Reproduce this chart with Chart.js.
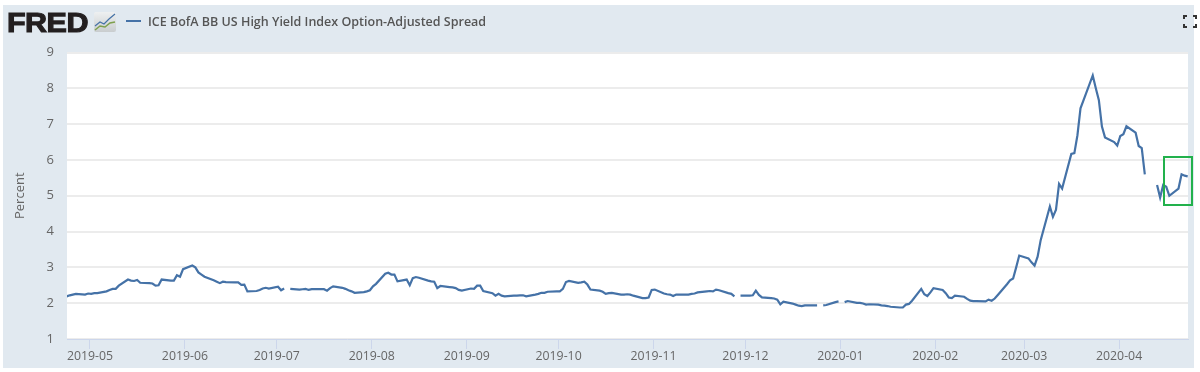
<!DOCTYPE html>
<html>
<head>
<meta charset="utf-8">
<title>ICE BofA BB US High Yield Index Option-Adjusted Spread</title>
<script src="https://cdn.jsdelivr.net/npm/chart.js@4"></script>
<style>
  html, body { margin: 0; padding: 0; background: #fff; }
  #wrap { position: relative; width: 1200px; height: 372px; overflow: hidden; }
  canvas { position: absolute; left: 0; top: 0; }
  #logo { position: absolute; left: 7px; top: 5px; font: bold 28px "Liberation Sans", sans-serif; color: #231f20; letter-spacing: -0.5px; -webkit-text-stroke: 1.1px #231f20; line-height: 36px; transform: scaleX(1.09); transform-origin: left center; }
  #logoIcon { position: absolute; left: 94px; top: 12px; }
  #legend { position: absolute; left: 126px; top: 12px; height: 18px; display: flex; align-items: center; font: 600 12.5px "Open Sans", sans-serif; color: #555; white-space: nowrap; }
  #legend i { display: block; width: 15px; height: 2px; background: #4572a7; margin-right: 7px; }
  #expand { position: absolute; left: 1183px; top: 15px; }
  #greenBox { position: absolute; left: 1163px; top: 156px; width: 26px; height: 46px; border: 2px solid #22b14c; }
</style>
</head>
<body>
<div id="wrap">
  <canvas id="fredChart" width="1200" height="372"></canvas>
  <div id="logo">FRED</div>
  <svg id="logoIcon" width="22" height="20" viewBox="0 0 22 20">
    <defs><linearGradient id="iconBg" x1="0" y1="0" x2="0" y2="1">
      <stop offset="0" stop-color="#eef0f1"/><stop offset="1" stop-color="#c9cdcf"/>
    </linearGradient></defs>
    <rect width="22" height="20" rx="2" fill="url(#iconBg)"/>
    <polyline points="1,14 6,10 10,12 15,7 21,2" fill="none" stroke="#4572a7" stroke-width="1.2"/>
    <polyline points="1,18 6,14 11,15 16,11 21,10" fill="none" stroke="#7ea04d" stroke-width="1.5"/>
  </svg>
  <div id="legend"><i></i><span id="legendText"></span></div>
  <svg id="expand" width="14" height="13" viewBox="0 0 14 13">
    <path d="M1 4V1H4M10 1H13V4M13 9V12H10M4 12H1V9" fill="none" stroke="#333" stroke-width="2"/>
  </svg>
  <div id="greenBox"></div>
</div>
<script>
const seriesName = "ICE BofA BB US High Yield Index Option-Adjusted Spread";
const yTitle = "Percent";
const yTicks = [1, 2, 3, 4, 5, 6, 7, 8, 9];
const xTickLabels = ["2019-05", "2019-06", "2019-07", "2019-08", "2019-09", "2019-10",
  "2019-11", "2019-12", "2020-01", "2020-02", "2020-03", "2020-04"];

// one row per week, Mon-Fri, first Monday is 2019-04-22. null = no print that day
const firstMonday = "2019-04-22";
const spread = [
  null, 2.19, 2.22, 2.24, 2.26,
  2.24, 2.27, 2.26, 2.28, 2.28,
  2.33, 2.37, 2.40, 2.40, 2.49,
  2.66, 2.63, 2.62, 2.65, 2.57,
  2.56, 2.55, 2.49, 2.50, 2.66,
  2.63, 2.63, 2.78, 2.74, 2.95,
  3.05, 3.00, 2.86, 2.80, 2.74,
  2.64, 2.60, 2.56, 2.60, 2.59,
  2.58, 2.58, 2.51, 2.52, 2.33,
  2.34, 2.37, 2.41, 2.43, 2.41,
  2.46, 2.36, 2.41, null, 2.40,
  2.38, 2.39, 2.40, 2.37, 2.39,
  2.39, 2.39, 2.35, 2.42, 2.47,
  2.43, 2.40, 2.36, 2.33, 2.29,
  2.31, 2.33, 2.36, 2.47, 2.54,
  2.82, 2.85, 2.80, 2.80, 2.61,
  2.66, 2.50, 2.70, 2.73, 2.71,
  2.63, 2.61, 2.60, 2.42, 2.48,
  2.45, 2.44, 2.42, 2.37, 2.35,
  2.41, 2.40, 2.49, 2.49, 2.34,
  2.28, 2.21, 2.26, 2.21, 2.19,
  2.21, 2.21, 2.22, 2.22, 2.19,
  2.24, 2.26, 2.29, 2.29, 2.32,
  2.33, 2.33, 2.40, 2.59, 2.62,
  2.57, 2.58, 2.60, 2.52, 2.38,
  2.35, 2.32, 2.26, 2.28, 2.29,
  2.24, 2.24, 2.25, 2.24, 2.21,
  2.14, 2.14, 2.16, 2.37, 2.38,
  2.27, 2.25, 2.24, 2.20, 2.24,
  2.24, 2.24, 2.26, 2.27, 2.30,
  2.33, 2.34, 2.33, 2.38, 2.36,
  2.28, 2.26, 2.19, null, 2.21,
  2.21, 2.22, 2.35, 2.23, 2.16,
  2.14, 2.13, 2.10, 1.97, 2.04,
  1.99, 1.96, 1.93, 1.92, 1.94,
  1.94, 1.94, null, 1.94, 1.95,
  2.03, 2.05, null, 2.03, 2.06,
  2.01, 2.01, 1.99, 1.96, 1.97,
  1.96, 1.94, 1.93, 1.92, 1.90,
  1.88, 1.88, 1.96, 1.98, 2.07,
  2.40, 2.25, 2.20, 2.30, 2.42,
  2.37, 2.28, 2.16, 2.14, 2.21,
  2.18, 2.12, 2.07, 2.06, 2.06,
  2.05, 2.10, 2.07, 2.13, 2.23,
  2.53, 2.64, 2.69, 3.00, 3.33,
  3.25, 3.14, 3.05, 3.30, 3.76,
  4.70, 4.41, 4.61, 5.33, 5.20,
  6.17, 6.19, 6.69, 7.44, 7.67,
  8.36, 8.00, 7.67, 6.93, 6.63,
  6.50, 6.40, 6.67, 6.72, 6.94,
  6.76, 6.39, 6.33, 5.60, null,
  5.30, 4.95, 5.30, 5.25, 5.00,
  5.20, 5.60, 5.56, 5.54
];

// x axis is plain days since 2019-05-01, no date adapter in the page
const dayMs = 86400000;
const may1 = Date.UTC(2019, 4, 1);
const dayOf = s => (Date.parse(s + (s.length === 7 ? "-01" : "") + "T00:00:00Z") - may1) / dayMs;
const xTickDays = xTickLabels.map(dayOf);
const startDay = dayOf(firstMonday);
const dayShift = 0.4; // prints sit a little right of the month ticks in the original
const points = spread.map((v, i) => ({
  x: startDay + Math.floor(i / 5) * 7 + i % 5 + dayShift,
  y: v
}));

document.getElementById("legendText").textContent = seriesName;

// light blue frame behind the plot
const panel = {
  id: "panel",
  beforeDraw(chart) {
    const { ctx, chartArea: a } = chart;
    ctx.save();
    ctx.fillStyle = "#e1e9f0";
    ctx.fillRect(3, 5, 1191, 363);
    ctx.fillStyle = "#fff";
    ctx.fillRect(a.left, a.top, a.right - a.left, a.bottom - a.top);
    ctx.restore();
  }
};

new Chart(document.getElementById("fredChart"), {
  type: "line",
  data: {
    datasets: [{
      label: seriesName,
      data: points,
      borderColor: "#4572a7",
      borderWidth: 2.2,
      pointRadius: 0,
      tension: 0,
      spanGaps: false
    }]
  },
  options: {
    responsive: false,
    animation: false,
    layout: { padding: { top: 52.5, right: 12, bottom: 0, left: 0 } },
    plugins: { legend: { display: false }, tooltip: { enabled: false } },
    scales: {
      x: {
        type: "linear",
        min: -7.5,
        max: 358.5,
        afterFit(s) { s.height = 33; },
        afterBuildTicks(s) { s.ticks = xTickDays.map(v => ({ value: v })); },
        border: { display: true, color: "#ccd6eb" },
        grid: { drawOnChartArea: false, drawTicks: true, tickLength: 10, tickColor: "#ccd6eb" },
        ticks: {
          autoSkip: false,
          maxRotation: 0,
          padding: 0,
          color: "#666",
          font: { family: "'Open Sans'", size: 12.3 },
          callback: v => xTickLabels[xTickDays.indexOf(v)]
        }
      },
      y: {
        min: 1,
        max: 9,
        afterFit(s) { s.width = 67; },
        afterBuildTicks(s) { s.ticks = yTicks.map(v => ({ value: v })); },
        border: { display: false },
        grid: { color: "#ececec", lineWidth: 2, drawTicks: false },
        title: {
          display: true,
          text: yTitle,
          color: "#666",
          padding: { top: 12, bottom: 0 },
          font: { family: "'Open Sans'", size: 13 }
        },
        ticks: {
          padding: 13,
          color: "#666",
          font: { family: "'Open Sans'", size: 13 }
        }
      }
    }
  },
  plugins: [panel]
});
</script>
</body>
</html>
